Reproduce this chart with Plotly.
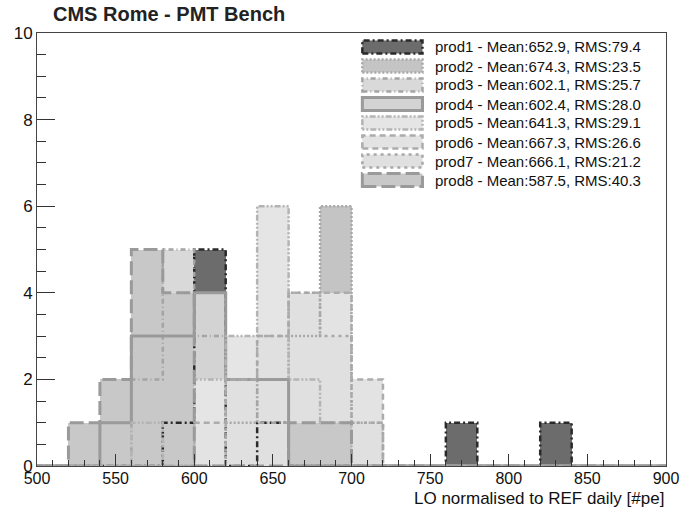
import plotly.graph_objects as go

# ---------------- data ----------------
bin_edges = list(range(500, 901, 20))          # 20 bins of 20 pe
names = ["prod1", "prod2", "prod3", "prod4", "prod5", "prod6", "prod7", "prod8"]
means = [652.9, 674.3, 602.1, 602.4, 641.3, 667.3, 666.1, 587.5]
rmss = [79.4, 23.5, 25.7, 28.0, 29.1, 26.6, 21.2, 40.3]

#           500 520 540 560 580 600 620 640 660 680 700 720 740 760 780 800 820 840 860 880
prod1 =    [0,  0,  0,  0,  1,  5,  0,  1,  0,  0,  0,  0,  0,  1,  0,  0,  1,  0,  0,  0]
prod2 =    [0,  0,  0,  0,  0,  0,  1,  2,  3,  6,  1,  0,  0,  0,  0,  0,  0,  0,  0,  0]
prod3 =    [0,  0,  0,  2,  5,  3,  2,  1,  0,  0,  0,  0,  0,  0,  0,  0,  0,  0,  0,  0]
prod4 =    [0,  0,  1,  3,  3,  4,  2,  2,  0,  0,  0,  0,  0,  0,  0,  0,  0,  0,  0,  0]
prod5 =    [0,  0,  0,  1,  0,  2,  3,  6,  2,  1,  0,  0,  0,  0,  0,  0,  0,  0,  0,  0]
prod6 =    [0,  0,  0,  0,  0,  1,  2,  3,  4,  4,  2,  0,  0,  0,  0,  0,  0,  0,  0,  0]
prod7 =    [0,  0,  0,  0,  0,  0,  2,  3,  4,  3,  1,  0,  0,  0,  0,  0,  0,  0,  0,  0]
prod8 =    [0,  1,  2,  5,  4,  0,  0,  0,  1,  1,  0,  0,  0,  0,  0,  0,  0,  0,  0,  0]
all_counts = [prod1, prod2, prod3, prod4, prod5, prod6, prod7, prod8]

title_text = "CMS Rome - PMT Bench"
xaxis_title = "LO normalised to REF daily [#pe]"

# ---------------- styles ----------------
fill_colors = ["#6c6c6c", "#c4c4c4", "#d9d9d9", "#d3d3d3", "#e5e5e5", "#e3e3e3", "#e0e0e0", "#c8c8c8"]
line_colors = ["#2a2a2a", "#a8a8a8", "#a4a4a4", "#9a9a9a", "#b4b4b4", "#acacac", "#a8a8a8", "#9a9a9a"]
line_dashes = ["6px,3px,2px,3px", "2px,2px", "5px,3px,1px,3px", "solid",
               "2px,2px,2px,2px,6px,2px", "6px,4px", "3px,4px", "14px,5px"]
line_widths = [2.5, 2.5, 2.5, 3, 2.5, 2.5, 2.5, 3]
FONT = "Liberation Sans, Arial, Helvetica, sans-serif"

centers = [e + 10 for e in bin_edges[:-1]]
fig = go.Figure()

# filled histograms, overlaid in drawing order
for i, c in enumerate(all_counts):
    fig.add_trace(go.Bar(x=centers, y=c, width=20, marker=dict(color=fill_colors[i], line=dict(width=0)),
                         name=names[i], showlegend=False, hoverinfo="skip"))

# outlines drawn on top
for i, c in enumerate(all_counts):
    fig.add_trace(go.Scatter(x=bin_edges, y=c + [c[-1]], mode="lines", line_shape="hv",
                             line=dict(color=line_colors[i], width=line_widths[i], dash=line_dashes[i]),
                             showlegend=False, hoverinfo="skip"))

# ---------------- layout ----------------
L, R, T, B = 37, 16, 33, 47
W, H = 691, 513
pw, ph = W - L - R, H - T - B

def px2paper(px, py):
    return (px - L) / pw, (H - B - py) / ph

shapes = []
annotations = []
for i in range(len(names)):
    cy = 47 + 19 * i
    x0, y0 = px2paper(367, cy + 6.5)
    x1, y1 = px2paper(428, cy - 6.5)
    shapes.append(dict(type="rect", xref="paper", yref="paper", x0=x0, x1=x1, y0=y0, y1=y1,
                       fillcolor=fill_colors[i],
                       line=dict(color=line_colors[i], width=line_widths[i], dash=line_dashes[i])))
    tx, ty = px2paper(439, cy)
    annotations.append(dict(xref="paper", yref="paper", x=tx, y=ty, xanchor="left", yanchor="middle",
                            showarrow=False, text=f"{names[i]} - Mean:{means[i]:.1f}, RMS:{rmss[i]:.1f}",
                            font=dict(family=FONT, size=15, color="#111")))

ax_x, ax_y = px2paper(675, 499)
annotations.append(dict(xref="paper", yref="paper", x=1.0, y=ax_y, xanchor="right", yanchor="middle",
                        showarrow=False, text=xaxis_title, font=dict(family=FONT, size=17, color="#111")))

fig.update_layout(
    width=W, height=H,
    margin=dict(l=L, r=R, t=T, b=B, pad=0),
    paper_bgcolor="white", plot_bgcolor="white",
    barmode="overlay", bargap=0,
    showlegend=False,
    title=dict(text=f"<b>{title_text}</b>", x=53 / W, xanchor="left", y=1 - 14 / H, yanchor="middle",
               font=dict(family=FONT, size=20, color="#222")),
    font=dict(family=FONT, size=16, color="#111"),
    shapes=shapes, annotations=annotations,
)
fig.update_xaxes(range=[500, 900], tick0=500, dtick=50, ticks="inside", ticklen=12, tickwidth=1,
                 tickcolor="#333", showline=True, linecolor="#444", linewidth=1, mirror=True,
                 showgrid=False, zeroline=False, ticklabelstandoff=-2,
                 minor=dict(dtick=10, ticks="inside", ticklen=6, tickcolor="#333", showgrid=False),
                 tickfont=dict(family=FONT, size=16, color="#111"))
fig.update_yaxes(range=[0, 10], tick0=0, dtick=2, ticks="inside", ticklen=18, tickwidth=1,
                 tickcolor="#333", showline=True, linecolor="#444", linewidth=1, mirror=True,
                 showgrid=False, zeroline=False, ticklabelstandoff=0,
                 minor=dict(dtick=0.5, ticks="inside", ticklen=9, tickcolor="#333", showgrid=False),
                 tickfont=dict(family=FONT, size=17, color="#111"))

fig.write_html("out.html")
